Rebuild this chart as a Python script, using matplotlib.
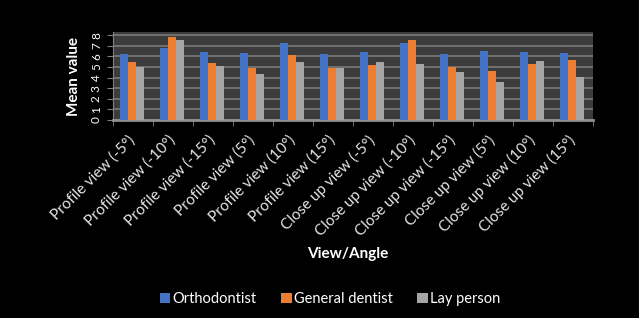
import numpy as np
import matplotlib
matplotlib.use("Agg")
import matplotlib.pyplot as plt
from matplotlib.patches import Patch

plt.rcParams["font.family"] = ["Lato", "DejaVu Sans"]

categories = [
    "Profile view (-5°)", "Profile view (-10°)", "Profile view (-15°)",
    "Profile view (5°)", "Profile view (10°)", "Profile view (15°)",
    "Close up view (-5°)", "Close up view (-10°)", "Close up view (-15°)",
    "Close up view (5°)", "Close up view (10°)", "Close up view (15°)",
]
orthodontist = [6.2, 6.8, 6.4, 6.3, 7.3, 6.2, 6.4, 7.3, 6.2, 6.5, 6.4, 6.3]
general_dentist = [5.5, 7.8, 5.4, 4.9, 6.1, 4.9, 5.2, 7.5, 5.0, 4.6, 5.3, 5.7]
lay_person = [5.0, 7.5, 5.1, 4.3, 5.5, 4.9, 5.5, 5.3, 4.5, 3.6, 5.6, 4.1]
series = [("Orthodontist", orthodontist, "#4472C4"),
          ("General dentist", general_dentist, "#ED7D31"),
          ("Lay person", lay_person, "#A5A5A5")]

W, H = 639, 318
fig = plt.figure(figsize=(W / 100, H / 100), dpi=100, facecolor="black")
left, right, bottom, top = 113, 593, 120, 32
ax = fig.add_axes([left / W, 1 - bottom / H, (right - left) / W, (bottom - top) / H])
ax.set_facecolor("#3c3c3c")

x = np.arange(len(categories))
bw = 0.2
for i, (name, vals, col) in enumerate(series):
    ax.bar(x + (i - 1) * bw - 0.02, vals, width=bw, color=col, zorder=3,
           edgecolor="none")

ax.set_xlim(-0.5, len(categories) - 0.5)
ax.set_ylim(0, 8.3)
ax.set_yticks(range(9))
ax.yaxis.grid(True, color="#7a7a7a", linewidth=1.2, zorder=0)
ax.set_xticks(x)
ax.set_xticklabels(categories, rotation=45, ha="right", va="center",
                   rotation_mode="anchor", color="#e6e6e6", fontsize=11)
ax.set_xticks(np.arange(-0.5, len(categories)), minor=True)
ax.tick_params(axis="x", which="major", length=0, pad=13)
ax.tick_params(axis="x", which="minor", length=4, color="#808080")
ax.tick_params(axis="y", colors="#808080", labelsize=8.5, length=4, pad=4)
for lab in ax.get_yticklabels():
    lab.set_color("white")
    lab.set_rotation(90)
    lab.set_va("center")
for s in ["top", "right"]:
    ax.spines[s].set_visible(False)
ax.spines["left"].set_color("#808080")
ax.spines["bottom"].set_color("#909090")
ax.spines["bottom"].set_linewidth(2)

ax.set_ylabel("Mean value", color="white", fontweight="bold", fontsize=11, labelpad=7)
fig.text(348 / W, 1 - 254 / H, "View/Angle", color="white", fontweight="bold",
         fontsize=11, ha="center", va="center")

handles = [Patch(facecolor=c, label=n) for n, _, c in series]
fig.legend(handles=handles, loc="center", bbox_to_anchor=(330 / W, 1 - 299 / H),
           ncol=3, frameon=False, fontsize=10.5, labelcolor="white",
           handlelength=0.7, handleheight=0.7, handletextpad=0.15, columnspacing=1.7)

fig.savefig("out.png", dpi=100, facecolor="black")
